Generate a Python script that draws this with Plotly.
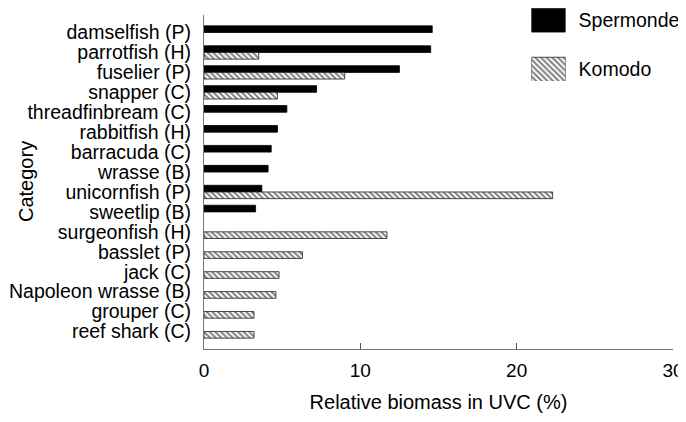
import plotly.graph_objects as go

categories = ["damselfish (P)", "parrotfish (H)", "fuselier (P)", "snapper (C)",
              "threadfinbream (C)", "rabbitfish (H)", "barracuda (C)", "wrasse (B)",
              "unicornfish (P)", "sweetlip (B)", "surgeonfish (H)", "basslet (P)",
              "jack (C)", "Napoleon wrasse (B)", "grouper (C)", "reef shark (C)"]
spermonde = [14.6, 14.5, 12.5, 7.2, 5.3, 4.7, 4.3, 4.1,
             3.7, 3.3, None, None, None, None, None, None]
komodo = [None, 3.5, 9.0, 4.7, None, None, None, None,
          22.3, None, 11.7, 6.3, 4.8, 4.6, 3.2, 3.2]
series_names = ["Spermonde", "Komodo"]
legend_len = [1, 1]
x_ticks = [0, 10, 20, 30]

FONT = "Liberation Sans, Arial, sans-serif"
hatch = dict(shape="\\", fgcolor="black", bgcolor="white", size=4, solidity=0.5)

fig = go.Figure()
fig.add_trace(go.Bar(y=categories, x=spermonde, orientation="h", name="Spermonde",
                     marker=dict(color="black", line=dict(color="black", width=0.8)),
                     showlegend=False))
fig.add_trace(go.Bar(y=categories, x=komodo, orientation="h", name="Komodo",
                     marker=dict(color="white", pattern=hatch,
                                 line=dict(color="#222", width=0.8)),
                     showlegend=False))

# legend swatches drawn on an auxiliary axis
fig.add_trace(go.Bar(y=[series_names[0]], x=[legend_len[0]], orientation="h",
                     xaxis="x2", yaxis="y2", width=0.49,
                     marker=dict(color="black", line=dict(color="black", width=0.8)),
                     showlegend=False, hoverinfo="skip"))
fig.add_trace(go.Bar(y=[series_names[1]], x=[legend_len[1]], orientation="h",
                     xaxis="x2", yaxis="y2", width=0.49,
                     marker=dict(color="white", pattern=hatch,
                                 line=dict(color="#222", width=0.8)),
                     showlegend=False, hoverinfo="skip"))

# the page body adds an 8px offset, so the figure is sized 8px smaller
fig.update_layout(
    width=678, height=406,
    margin=dict(l=196, r=13, t=0, b=65, autoexpand=False),
    paper_bgcolor="white", plot_bgcolor="white",
    font=dict(family=FONT, size=19, color="black"),
    barmode="group", bargap=0.33, bargroupgap=0,
    xaxis=dict(domain=[0, 1], range=[0, 30], tickvals=x_ticks,
               ticks="inside", ticklen=6, tickcolor="#555", tickwidth=1,
               showline=True, linecolor="#777", linewidth=1, automargin=False,
               showgrid=False, zeroline=False, ticklabeloverflow="allow",
               tickfont=dict(size=19), ticklabelstandoff=4,
               title=dict(text="Relative biomass in UVC (%)", standoff=15,
                          font=dict(size=20))),
    yaxis=dict(domain=[0, 334 / 341], type="category", categoryorder="array",
               categoryarray=categories, range=[15.88, -0.88], dtick=1,
               tickmode="linear", tick0=0, automargin=False,
               tickfont=dict(size=19.5),
               showline=True, linecolor="#777", linewidth=1,
               ticks="", showgrid=False, zeroline=False, ticklabelstandoff=8),
    xaxis2=dict(domain=[0.698, 0.771], anchor="y2", range=[0, 1],
                visible=False),
    yaxis2=dict(domain=[0.786, 0.999], anchor="x2", type="category",
                categoryorder="array", categoryarray=series_names,
                range=[1.235, -0.235], side="right", showline=False,
                tickfont=dict(size=19.5), automargin=False,
                ticks="", showgrid=False, zeroline=False, ticklabelstandoff=12),
    annotations=[dict(text="Category", textangle=-90, xref="paper", yref="paper",
                      x=(26 - 204) / 469, y=(341 - 174) / 341,
                      xanchor="center", yanchor="middle",
                      showarrow=False, font=dict(size=20))],
)

fig.write_html("out.html")
